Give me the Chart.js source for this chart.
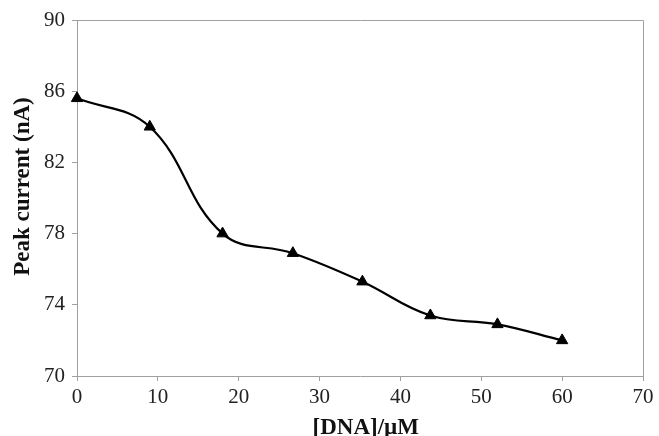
<!DOCTYPE html>
<html>
<head>
<meta charset="utf-8">
<script src="https://cdn.jsdelivr.net/npm/chart.js@4.4.1/dist/chart.umd.min.js"></script>
<style>
    html, body { margin: 0; padding: 0; background: #fff; }
    #wrap { width: 659px; height: 436px; }
</style>
</head>
<body>
<div id="wrap"><canvas id="chart"></canvas></div>
<script>
// data
const dnaConc = [0, 9, 18, 26.7, 35.3, 43.7, 52, 60];          // [DNA] / uM
const peakCurrent = [85.6, 84.0, 78.0, 76.9, 75.3, 73.4, 72.9, 72.0]; // nA
const xTicks = [0, 10, 20, 30, 40, 50, 60, 70];
const yTicks = [70, 74, 78, 82, 86, 90];

const axisGray = "#a0a0a0";
const serif = "'Liberation Serif', 'Times New Roman', serif";

// box round the plot area (top and right edges)
const framePlugin = {
    id: "frame",
    beforeDatasetsDraw(chart) {
        const { ctx, chartArea } = chart;
        ctx.save();
        ctx.strokeStyle = axisGray;
        ctx.lineWidth = 1;
        ctx.beginPath();
        ctx.moveTo(chartArea.left, chartArea.top + 0.5);
        ctx.lineTo(chartArea.right + 0.5, chartArea.top + 0.5);
        ctx.lineTo(chartArea.right + 0.5, chartArea.bottom);
        ctx.stroke();
        ctx.restore();
    }
};

const points = dnaConc.map((x, i) => ({ x: x, y: peakCurrent[i] }));

new Chart(document.getElementById("chart"), {
    type: "line",
    data: {
        datasets: [{
            data: points,
            clip: false,
            borderColor: "#000",
            borderWidth: 2.2,
            tension: 0.4,
            pointStyle: "triangle",
            pointRadius: 6.5,
            pointBackgroundColor: "#000",
            pointBorderColor: "#000",
            pointBorderWidth: 1,
        }]
    },
    options: {
        responsive: true,
        maintainAspectRatio: false,
        animation: false,
        layout: { padding: { top: 20, right: 16, left: 0, bottom: 0 } },
        plugins: {
            legend: { display: false },
            tooltip: { enabled: false },
        },
        scales: {
            x: {
                type: "linear",
                min: 0,
                max: 70,
                afterBuildTicks: (s) => { s.ticks = xTicks.map(v => ({ value: v })); },
                afterFit: (s) => { s.height = 60; },
                grid: { drawOnChartArea: false, drawTicks: true, tickLength: 5, color: axisGray },
                border: { display: true, color: axisGray, width: 1 },
                ticks: { color: "#222", padding: 4, font: { family: serif, size: 21 } },
                title: {
                    display: true,
                    text: "  [DNA]/\u00b5M",
                    color: "#111",
                    padding: 0,
                    font: { family: serif, size: 23, weight: "bold", lineHeight: 0.7 },
                },
            },
            y: {
                min: 70,
                max: 90,
                afterBuildTicks: (s) => { s.ticks = yTicks.map(v => ({ value: v })); },
                afterFit: (s) => { s.width = 77; },
                grid: { drawOnChartArea: false, drawTicks: true, tickLength: 5, color: axisGray },
                border: { display: true, color: axisGray, width: 1 },
                ticks: { color: "#222", padding: 7, font: { family: serif, size: 21 } },
                title: {
                    display: true,
                    text: "    Peak current (nA)",
                    color: "#111",
                    padding: { top: 9, bottom: 0 },
                    font: { family: serif, size: 23, weight: "bold" },
                },
            },
        },
    },
    plugins: [framePlugin],
});
</script>
</body>
</html>
